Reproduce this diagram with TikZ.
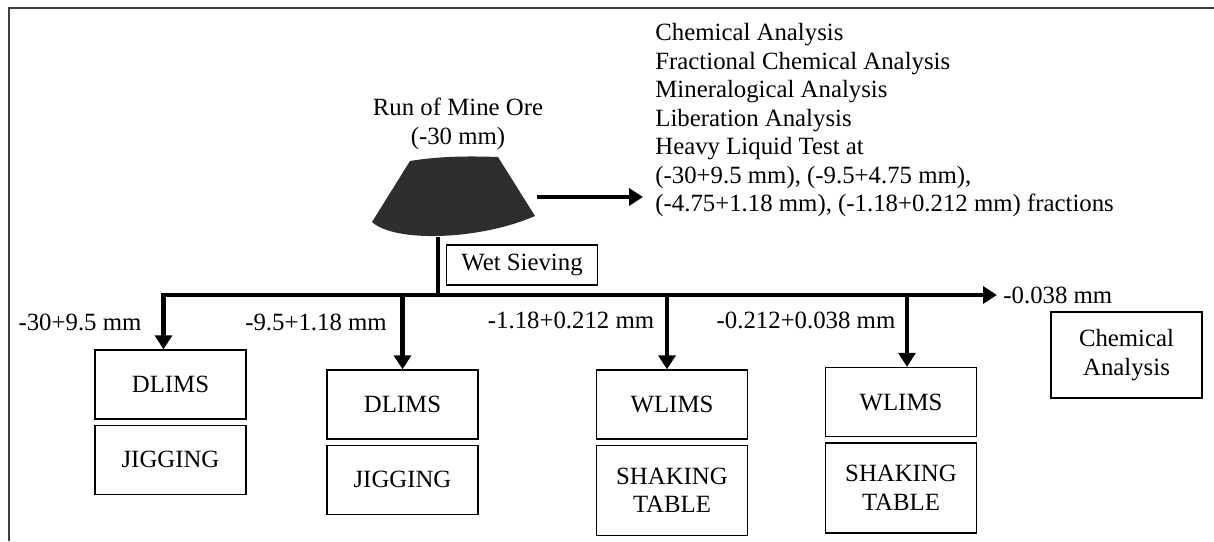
\documentclass[tikz,border=0pt]{standalone}
\usepackage{fontspec}
\setmainfont{Liberation Serif}
\usetikzlibrary{arrows.meta,positioning}
\tikzset{
    stage/.style={draw, line width=0.7pt, minimum width=75.5pt, minimum height=34.5pt, inner sep=0pt, align=center},
    tallstage/.style={stage, minimum height=45pt},
    flow/.style={line width=2.4pt, -{Triangle[length=7pt,width=8.5pt]}},
    size/.style={inner sep=0pt},
    node distance=2.5pt
}

\begin{document}
\begin{tikzpicture}[x=0.5pt, y=-0.5pt, font=\fontsize{12.4}{14.25}\selectfont]
			\useasboundingbox (0,0) rectangle (1214,541);
			\draw[black!75, line width=1pt] (9,541) -- (9,8) -- (1214,8);

			% feed pile
			\node[size, align=center] (rom) at (458,124) {Run of Mine Ore\\(-30 mm)};
			\fill[black!82] (410,161) .. controls (440,156) and (470,156) .. (498,157)
				-- (535,216) .. controls (480,240) and (395,243) .. (372,222) -- cycle;
			\coordinate (ore) at (438,237);
			\coordinate (oreE) at (537,197);
			\coordinate (split) at (438,295);
			\coordinate (fine) at (997,295);

			\node[size, anchor=north west, align=left] (list) at (655,23) {Chemical Analysis\\
				Fractional Chemical Analysis\\
				Mineralogical Analysis\\
				Liberation Analysis\\
				Heavy Liquid Test at\\
				(-30+9.5 mm), (-9.5+4.75 mm),\\
				(-4.75+1.18 mm), (-1.18+0.212 mm) fractions};

			\node[stage, minimum height=20pt] (sieve) at (522,265) {Wet Sieving};

			% concentration routes
			\node[stage] (d1) at (170.5,384.5) {DLIMS};
			\node[stage, below = of d1] (j1) {JIGGING};
			\node[stage] (d2) at (402.5,404.5) {DLIMS};
			\node[stage, below = of d2] (j2) {JIGGING};
			\node[stage] (w3) at (672,404.5) {WLIMS};
			\node[tallstage, below = of w3] (s3) {SHAKING\\TABLE};
			\node[stage] (w4) at (901,402) {WLIMS};
			\node[tallstage, below = of w4] (s4) {SHAKING\\TABLE};
			\node[stage, minimum height=43pt] (chem) at (1126.5,355) {Chemical\\Analysis};

			\node[size] at (80,322) {-30+9.5 mm};
			\node[size] at (316,322) {-9.5+1.18 mm};
			\node[size] at (571,320) {-1.18+0.212 mm};
			\node[size] at (806,320) {-0.212+0.038 mm};
			\node[size, anchor=west] at (1003,295) {-0.038 mm};

			\draw[line width=2.4pt] (ore) -- (split);
			\draw[flow, shorten >=6pt] (oreE) -- (oreE -| list.west);
			\draw[flow] (split) -| ([xshift=-3.5pt]d1.north);
			\draw[flow] (split) -- (fine);
			\draw[flow] (d2.north |- split) -- (d2.north);
			\draw[flow] ([xshift=-2.5pt]w3.north |- split) -- ([xshift=-2.5pt]w3.north);
			\draw[flow] ([xshift=3pt]w4.north |- split) -- ([xshift=3pt]w4.north);
		\end{tikzpicture}
\end{document}
